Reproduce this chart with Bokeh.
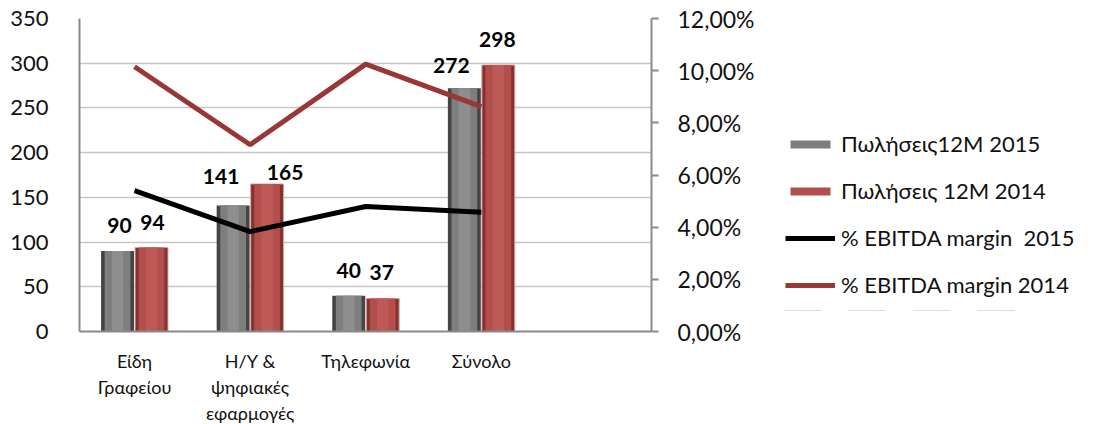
from bokeh.plotting import figure
from bokeh.models import (ColumnDataSource, Range1d, LinearAxis, FixedTicker,
                          LabelSet, Legend, LegendItem)
from bokeh.layouts import row
from bokeh.core.properties import value
from bokeh.embed import file_html
from bokeh.resources import INLINE

# ---- data ----
categories = ["Είδη Γραφείου", "Η/Υ & ψηφιακές εφαρμογές", "Τηλεφωνία", "Σύνολο"]
cat_labels = ["Είδη\nΓραφείου", "Η/Υ &\nψηφιακές\nεφαρμογές", "Τηλεφωνία", "Σύνολο"]
sales_2015 = [90, 141, 40, 272]
sales_2014 = [94, 165, 37, 298]
ebitda_2015 = [5.40, 3.83, 4.79, 4.57]
ebitda_2014 = [10.15, 7.16, 10.25, 8.62]
left_ticks = [0, 50, 100, 150, 200, 250, 300, 350]
right_ticks = [0, 2, 4, 6, 8, 10, 12]
right_tick_labels = ["0,00%", "2,00%", "4,00%", "6,00%", "8,00%", "10,00%", "12,00%"]
series_names = ["Πωλήσεις12Μ 2015", "Πωλήσεις 12Μ 2014",
                "% EBITDA margin  2015", "% EBITDA margin 2014"]

# ---- styles ----
FONT = "Lato"
GRAY = "#7e7e7e"
GRAY_DARK = "#454545"
GRAY_LIGHT = "#8e8e8e"
RED = "#b24e4b"
RED_DARK = "#843230"
RED_LIGHT = "#bd5a57"
LINE_RED = "#993636"
BAR_W = 0.285
OFF = 0.147
lab_dx_2015 = [2, -12, 0, -13]
lab_dy_2015 = [18, 21, 18, 15]
lab_dx_2014 = [1, 18, -1, -1]
lab_dy_2014 = [17, 4, 18, 18]

xs = list(range(len(categories)))
x15 = [x - OFF for x in xs]
x14 = [x + OFF for x in xs]

src15 = ColumnDataSource(dict(x=x15, top=sales_2015, lab=[str(v) for v in sales_2015],
                              dx=lab_dx_2015, dy=lab_dy_2015))
src14 = ColumnDataSource(dict(x=x14, top=sales_2014, lab=[str(v) for v in sales_2014],
                              dx=lab_dx_2014, dy=lab_dy_2014))
srcl = ColumnDataSource(dict(x=xs, e15=ebitda_2015, e14=ebitda_2014))

p = figure(frame_width=572, frame_height=313, min_border_left=79, min_border_right=120,
           min_border_top=18, min_border_bottom=75,
           x_range=Range1d(-0.476, 4.472), y_range=Range1d(0, 350),
           output_backend="svg", toolbar_location=None, tools="")
p.outline_line_color = None
p.background_fill_color = "white"
p.extra_y_ranges = {"pct": Range1d(0, 12)}

# grid
p.xgrid.grid_line_color = None
p.ygrid.grid_line_color = "#c6c6c6"
p.ygrid.grid_line_width = 1.3
p.yaxis.ticker = FixedTicker(ticks=left_ticks)

# left axis
ya = p.yaxis[0]
ya.axis_line_color = "#8a8a8a"
ya.axis_line_width = 2
ya.major_tick_line_color = None
ya.minor_tick_line_color = None
ya.major_label_text_font = FONT
ya.major_label_text_font_size = "22px"
ya.major_label_text_color = "#111111"
ya.major_label_standoff = 25

# bottom axis
xa = p.xaxis[0]
xa.ticker = FixedTicker(ticks=xs)
xa.major_label_overrides = {i: t for i, t in zip(xs, cat_labels)}
xa.axis_line_color = "#8a8a8a"
xa.axis_line_width = 2
xa.major_tick_line_color = None
xa.minor_tick_line_color = None
xa.major_label_text_font = FONT
xa.major_label_text_font_size = "18px"
xa.major_label_text_color = "#111111"
xa.major_label_standoff = 12

# right axis
ra = LinearAxis(y_range_name="pct", ticker=FixedTicker(ticks=right_ticks))
ra.major_label_overrides = {t: s for t, s in zip(right_ticks, right_tick_labels)}
ra.axis_line_color = "#8a8a8a"
ra.axis_line_width = 2
ra.major_tick_line_color = "#8a8a8a"
ra.major_tick_line_width = 2
ra.major_tick_out = 7
ra.major_tick_in = 0
ra.minor_tick_line_color = None
ra.major_label_text_font = FONT
ra.major_label_text_font_size = "23px"
ra.major_label_text_color = "#111111"
ra.major_label_standoff = 19
p.add_layout(ra, "right")

# bars (layered for a bevel look)
p.vbar(x="x", top="top", width=BAR_W, source=src15, fill_color=GRAY_DARK, line_color=None)
p.vbar(x="x", top="top", width=BAR_W * 0.78, source=src15, fill_color=GRAY, line_color=None)
p.vbar(x="x", top="top", width=BAR_W * 0.35, source=src15, fill_color=GRAY_LIGHT, line_color=None)
p.vbar(x="x", top="top", width=BAR_W, source=src14, fill_color=RED_DARK, line_color="#d9a9a8", line_width=1)
p.vbar(x="x", top="top", width=BAR_W * 0.78, source=src14, fill_color=RED, line_color=None)
p.vbar(x="x", top="top", width=BAR_W * 0.35, source=src14, fill_color=RED_LIGHT, line_color=None)

# lines
p.line(x="x", y="e15", source=srcl, y_range_name="pct", line_color="black", line_width=5)
p.line(x="x", y="e14", source=srcl, y_range_name="pct", line_color=LINE_RED, line_width=5)

# data labels
for s in (src15, src14):
    p.add_layout(LabelSet(x="x", y="top", text="lab", source=s, x_offset="dx", y_offset="dy",
                          text_align="center", text_baseline="alphabetic",
                          text_font=value(FONT), text_font_style="bold",
                          text_font_size=value("21px"), text_color="black"))

# ---- legend panel (separate figure placed to the right; its renderers share the
#      chart's sources but lie below its view, so only the legend is seen) ----
q = figure(width=320, height=406, min_border=0, x_range=Range1d(-0.476, 4.472),
           y_range=Range1d(400, 800),
           x_axis_location=None, y_axis_location=None,
           output_backend="svg", toolbar_location=None, tools="")
q.outline_line_color = None
q.grid.visible = False
lg1 = q.vbar(x="x", top="top", width=BAR_W, source=src15, fill_color=GRAY, line_color=None)
lg2 = q.vbar(x="x", top="top", width=BAR_W, source=src14, fill_color=RED, line_color=None)
lg3 = q.line(x="x", y="e15", source=srcl, line_color="black", line_width=5)
lg4 = q.line(x="x", y="e14", source=srcl, line_color=LINE_RED, line_width=5)

legend = Legend(items=[LegendItem(label=series_names[0], renderers=[lg1]),
                       LegendItem(label=series_names[1], renderers=[lg2]),
                       LegendItem(label=series_names[2], renderers=[lg3]),
                       LegendItem(label=series_names[3], renderers=[lg4])],
                location=(14, 12))
legend.border_line_color = None
legend.background_fill_alpha = 0
legend.padding = 0
legend.margin = 0
legend.glyph_width = 50
legend.glyph_height = 10
legend.label_height = 24
legend.spacing = 20
legend.label_standoff = 6
legend.label_text_font = FONT
legend.label_text_font_size = "22px"
legend.label_text_color = "#111111"
q.add_layout(legend, "center")

layout = row(p, q)
open("out.html", "w").write(file_html(layout, INLINE))
